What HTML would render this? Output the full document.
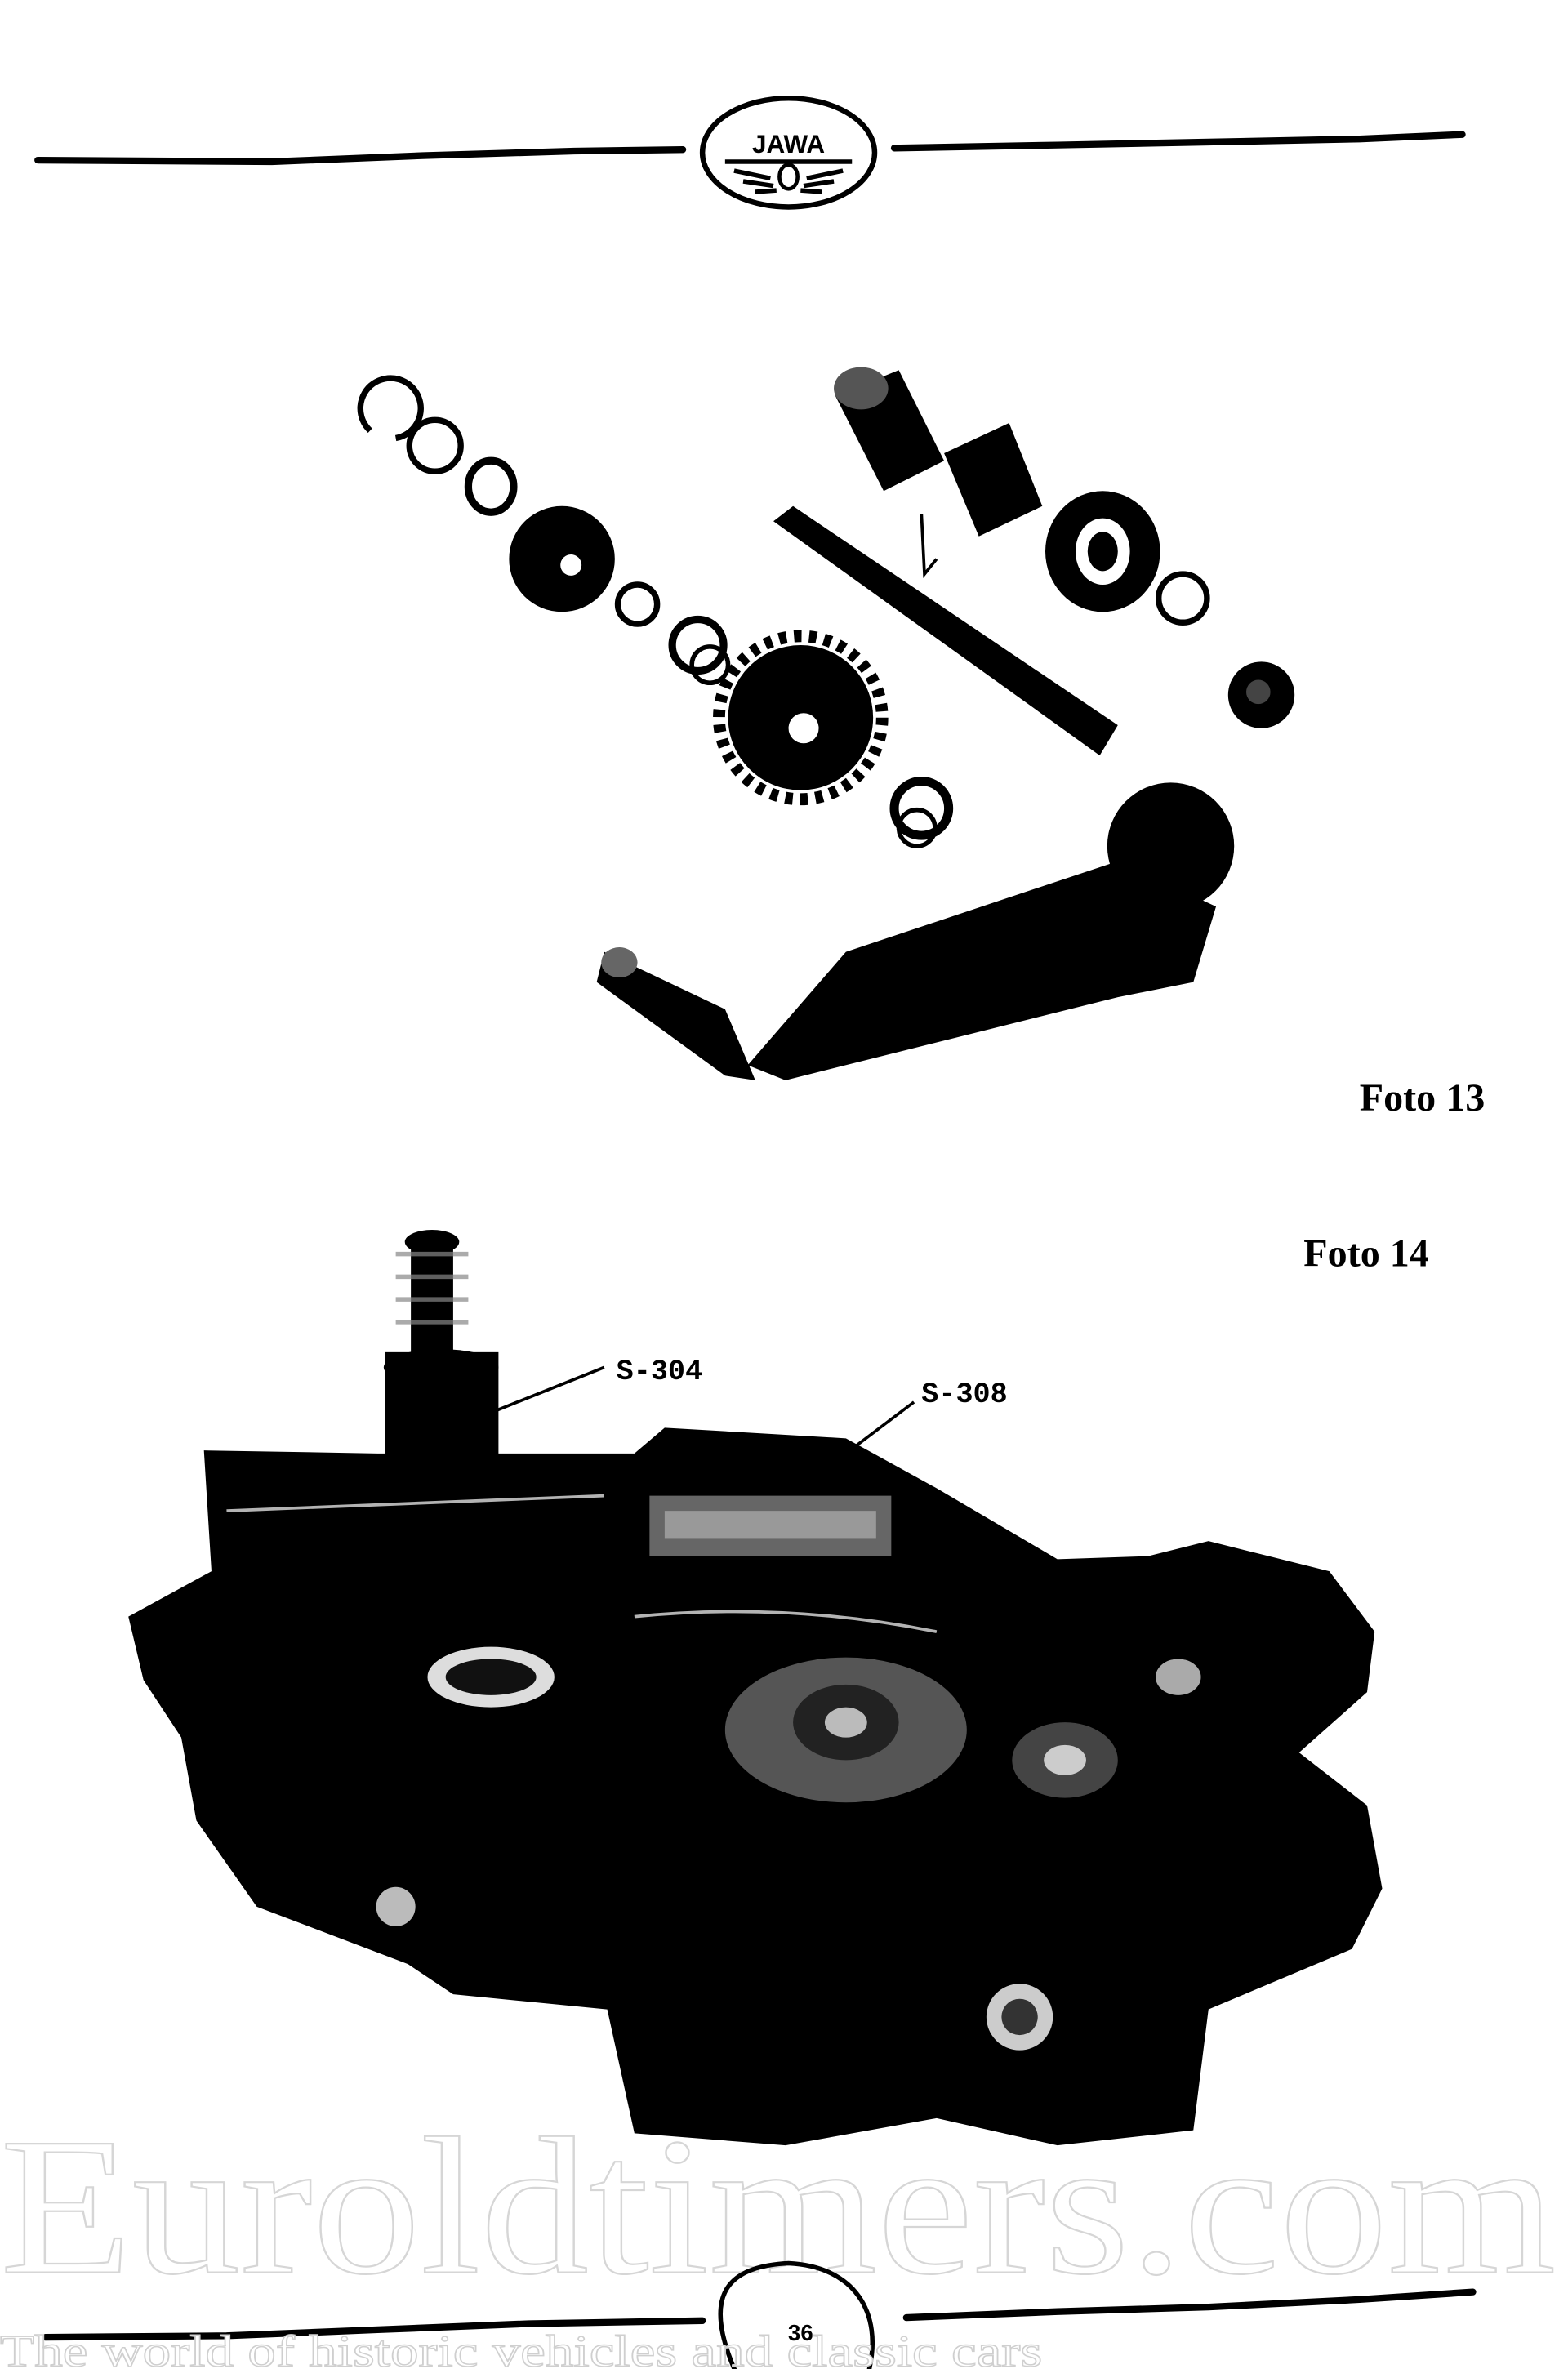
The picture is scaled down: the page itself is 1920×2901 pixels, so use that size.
<!DOCTYPE html>
<html><head><meta charset="utf-8"><style>
html,body{margin:0;padding:0;background:#fff;}
svg{display:block;}
</style></head><body>
<svg width="1920" height="2901" viewBox="0 0 1038 1568" preserveAspectRatio="none" xmlns="http://www.w3.org/2000/svg">
<rect width="1038" height="1568" fill="#fff"/>
<!-- header -->
<polyline points="25,106 180,107 280,103 380,100 452,99" fill="none" stroke="#000" stroke-width="4.5" stroke-linecap="round"/>
<polyline points="592,98 700,96 800,94 900,92 968,89" fill="none" stroke="#000" stroke-width="4.5" stroke-linecap="round"/>
<ellipse cx="522" cy="101" rx="57" ry="36" fill="#fff" stroke="#000" stroke-width="3.5"/>
<text x="522" y="101" text-anchor="middle" font-family="Liberation Sans, sans-serif" font-size="17" font-weight="bold">JAWA</text>
<path d="M480,107 L564,107 M486,113 L510,118 M492,120 L512,123 M500,127 L514,126 M558,113 L534,118 M552,120 L532,123 M544,127 L530,126" stroke="#000" stroke-width="3" fill="none"/>
<ellipse cx="522" cy="117" rx="6" ry="8" fill="none" stroke="#000" stroke-width="2.5"/>

<!-- Foto 13 parts -->
<g fill="none" stroke="#000">
<path d="M245,285 A20,20 0 1 1 262,290" stroke-width="4"/>
<circle cx="288" cy="295" r="17" stroke-width="4"/>
<ellipse cx="325" cy="322" rx="15" ry="17" stroke-width="5"/>
<circle cx="422" cy="400" r="13" stroke-width="4"/>
<circle cx="462" cy="427" r="17" stroke-width="5"/>
<circle cx="470" cy="440" r="12" stroke-width="3"/>
<circle cx="610" cy="535" r="18" stroke-width="6"/>
<circle cx="607" cy="548" r="12" stroke-width="3"/>
<circle cx="783" cy="396" r="16" stroke-width="4"/>
</g>
<g fill="#000">
<circle cx="372" cy="370" r="35"/>
<circle cx="378" cy="374" r="7" fill="#fff"/>
<circle cx="530" cy="475" r="48"/>
<circle cx="532" cy="482" r="10" fill="#fff"/>
<circle cx="530" cy="475" r="54" fill="none" stroke="#000" stroke-width="8" stroke-dasharray="5 5"/>
<path d="M553,262 L595,245 L625,305 L585,325 Z"/>
<ellipse cx="570" cy="257" rx="18" ry="14" fill="#555"/>
<path d="M625,300 L668,280 L690,335 L648,355 Z"/>
<path d="M610,340 L612,380 L620,370" fill="none" stroke="#000" stroke-width="2"/>
<ellipse cx="730" cy="365" rx="38" ry="40"/>
<ellipse cx="730" cy="365" rx="18" ry="22" fill="#fff"/>
<ellipse cx="730" cy="365" rx="10" ry="13"/>
<circle cx="835" cy="460" r="22"/>
<circle cx="833" cy="458" r="8" fill="#444"/>
<path d="M512,345 L525,335 L740,480 L728,500 Z"/>
<circle cx="775" cy="560" r="42"/>
<path d="M740,570 L805,600 L790,650 L740,660 L520,715 L495,705 L560,630 Z"/>
<path d="M400,630 L480,668 L500,715 L480,712 L395,650 Z"/>
<ellipse cx="410" cy="637" rx="12" ry="10" fill="#666"/>
</g>
<text x="900" y="735" font-family="Liberation Serif, serif" font-weight="bold" font-size="26">Foto 13</text>
<text x="863" y="838" font-family="Liberation Serif, serif" font-weight="bold" font-size="26">Foto 14</text>

<!-- Foto 14 engine -->
<g fill="#000">
<path d="M85,1070 L140,1040 L135,960 L250,962 L420,962 L440,945 L560,952 L620,985 L700,1032 L760,1030 L800,1020 L880,1040 L910,1080 L905,1120 L860,1160 L905,1195 L915,1250 L895,1290 L800,1330 L790,1410 L700,1420 L620,1402 L520,1420 L420,1412 L402,1330 L300,1320 L270,1300 L170,1262 L130,1205 L120,1150 L95,1112 Z"/>
<rect x="255" y="895" width="75" height="160"/>
<rect x="272" y="820" width="28" height="80"/>
<ellipse cx="286" cy="822" rx="18" ry="8"/>
<ellipse cx="292" cy="905" rx="38" ry="12"/>
</g>
<g fill="none" stroke="#fff" stroke-width="2" opacity="0.7">
<path d="M262,830 L310,830 M262,845 L310,845 M262,860 L310,860 M262,875 L310,875" stroke="#888" stroke-width="3"/>
<path d="M420,1070 Q520,1060 620,1080" />
<path d="M150,1000 L400,990"/>
</g>
<ellipse cx="325" cy="1110" rx="42" ry="20" fill="#ddd"/>
<ellipse cx="325" cy="1110" rx="30" ry="12" fill="#111"/>
<ellipse cx="560" cy="1145" rx="80" ry="48" fill="#555"/>
<ellipse cx="560" cy="1140" rx="35" ry="25" fill="#222"/>
<ellipse cx="560" cy="1140" rx="14" ry="10" fill="#bbb"/>
<ellipse cx="705" cy="1165" rx="35" ry="25" fill="#444"/>
<ellipse cx="705" cy="1165" rx="14" ry="10" fill="#ccc"/>
<rect x="430" y="990" width="160" height="40" fill="#666"/>
<rect x="440" y="1000" width="140" height="18" fill="#999"/>
<ellipse cx="780" cy="1110" rx="15" ry="12" fill="#aaa"/>
<circle cx="262" cy="1262" r="13" fill="#bbb"/>
<circle cx="675" cy="1335" r="22" fill="#ccc"/>
<circle cx="675" cy="1335" r="12" fill="#333"/>
<path d="M400,905 L325,935" stroke="#000" stroke-width="2"/>
<path d="M605,928 L560,962" stroke="#000" stroke-width="2"/>
<text x="408" y="913" font-family="Liberation Mono, monospace" font-weight="bold" font-size="19">S-304</text>
<text x="610" y="928" font-family="Liberation Mono, monospace" font-weight="bold" font-size="19">S-308</text>

<!-- watermark -->
<text x="0" y="1504" textLength="1030" lengthAdjust="spacingAndGlyphs" font-family="Liberation Serif, serif" font-size="130" fill="#fff" stroke="#d6d6d6" stroke-width="1.2">Euroldtimers.com</text>
<!-- footer -->
<polyline points="30,1547 150,1546 250,1542 350,1538 465,1536" fill="none" stroke="#000" stroke-width="4.5" stroke-linecap="round"/>
<polyline points="600,1534 700,1530 800,1527 900,1522 975,1517" fill="none" stroke="#000" stroke-width="4.5" stroke-linecap="round"/>
<path d="M487,1570 C465,1520 480,1500 522,1498 C565,1500 585,1530 575,1570" fill="none" stroke="#000" stroke-width="3"/>
<text x="530" y="1549" text-anchor="middle" font-family="Liberation Sans, sans-serif" font-weight="bold" font-size="15">36</text>
<text x="0" y="1566" textLength="690" lengthAdjust="spacingAndGlyphs" font-family="Liberation Serif, serif" font-size="30" fill="#fff" stroke="#cfcfcf" stroke-width="0.8">The world of historic vehicles and classic cars</text>
</svg>
</body></html>
